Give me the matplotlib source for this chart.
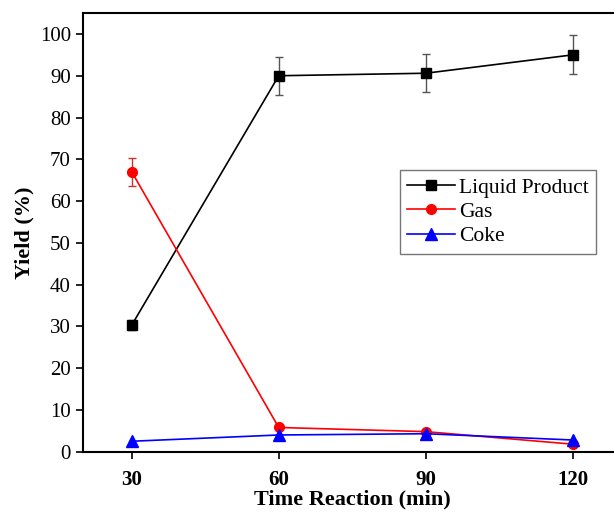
import matplotlib
matplotlib.use('Agg')
from matplotlib import pyplot as plt

#----------Data-------------------------------------
time_min = [30, 60, 90, 120]
liquid = [30.3, 90.0, 90.6, 95.0]
liquid_err = [1.2, 4.5, 4.6, 4.7]
gas = [67.0, 5.8, 4.8, 1.8]
gas_err = [3.3, 0, 0, 0]
coke = [2.5, 4.0, 4.3, 2.8]
yticks = [0, 10, 20, 30, 40, 50, 60, 70, 80, 90, 100]

#----------Figure-----------------------------------
plt.rcParams['font.family'] = ['Liberation Serif', 'DejaVu Serif']
fig = plt.figure(figsize=(6.14, 5.13), dpi=100)
ax = fig.add_axes([0.1347, 0.1195, 0.878, 0.855])

# error bars first, lines on top
ax.errorbar(time_min, liquid, yerr=liquid_err, fmt='none', ecolor='#555555',
            elinewidth=1, capsize=3)
ax.errorbar(time_min, gas, yerr=gas_err, fmt='none', ecolor='#cc3333',
            elinewidth=1, capsize=3)
ax.plot(time_min, liquid, color='black', marker='s', markersize=7, lw=1.2,
        label='Liquid Product')
ax.plot(time_min, gas, color='red', marker='o', markersize=7, lw=1.2,
        label='Gas')
ax.plot(time_min, coke, color='blue', marker='^', markersize=8, lw=1.2,
        label='Coke')

ax.set_xlim(20, 130)
ax.set_ylim(0, 105)
ax.set_xticks(time_min)
ax.set_yticks(yticks)
ax.tick_params(axis='both', labelsize=15, width=1.2, length=5)
ax.tick_params(axis='x', pad=8)
for t in ax.get_xticklabels():
    t.set_fontweight('bold')
for s in ax.spines.values():
    s.set_linewidth(1.5)

ax.set_xlabel('Time Reaction (min)', fontsize=16, fontweight='bold', labelpad=0)
ax.set_ylabel('Yield (%)', fontsize=16, fontweight='bold', labelpad=4)

leg = ax.legend(loc='upper left', bbox_to_anchor=(0.576, 0.657), fontsize=15.5,
                frameon=True, fancybox=False, edgecolor='#555555',
                handlelength=2.2, handletextpad=0.2, borderpad=0.35,
                labelspacing=0.2, borderaxespad=0.3)
leg.get_frame().set_linewidth(1)

fig.savefig('out.png', dpi=100)
